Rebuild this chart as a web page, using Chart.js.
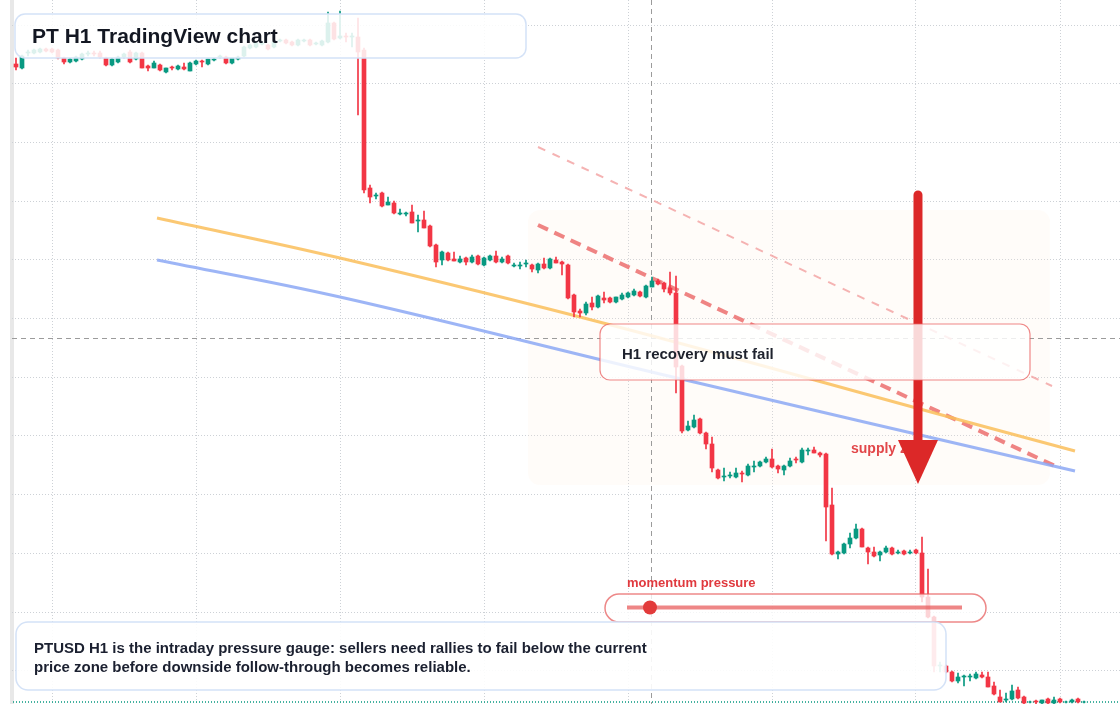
<!DOCTYPE html>
<html>
<head>
<meta charset="utf-8">
<script src="https://cdn.jsdelivr.net/npm/chart.js@4.4.1/dist/chart.umd.min.js"></script>
<style>
  html, body { margin: 0; padding: 0; background: #fff; }
  #wrap { width: 1120px; height: 704px; position: relative; }
</style>
</head>
<body>
<div id="wrap"><canvas id="chart"></canvas></div>
<script>
// PTUSD H1 candles, price in hidden-axis units (top of pane = 704)
const candleOpen = [
  640,636,651,651,652,655,655,654,646,642, 643,645,650,651,651,646,639,642,647,652,
  645,651,638,636,639,632,637,635,637,633, 640,643,640,644,647,647,641,645,648,656,
  657,660,659,657,663,664,662,659,663,664, 660,659,662,681,666,668,667,667,654,516,
  508,511,499,501,490,490,492,483,484,478, 459,444,451,445,442,446,442,448,439,444,
  448,442,448,438,438,440,439,434,440,436, 444,442,439,409,393,391,401,397,406,406,
  402,405,407,409,412,407,417,423,421,416, 411,338,274,277,285,271,260,234,227,228,
  227,231,229,237,238,242,245,238,234,238, 245,242,253,254,251,250,199,150,151,160,
  166,175,156,152,149,152,156,151,153,151, 154,151,107,87,38,38,32,23,27,27,
  26,29,27,18,7,4,5,14,7,2, 3,1,5,1,5,2,2,5,2
];
const candleHigh = [
  646,649,654,655,656,656,656,655,647,646, 648,651,653,653,653,647,646,648,651,654,
  652,652,639,643,640,636,638,639,641,642, 644,644,645,646,649,648,646,648,658,660,
  662,662,660,663,665,665,663,665,665,665, 662,664,692,682,693,671,671,686,656,519,
  511,512,507,503,495,492,499,489,493,479, 460,453,452,452,448,447,449,449,447,449,
  453,447,449,441,442,444,440,441,446,446, 447,443,440,410,395,402,407,409,412,407,
  407,411,412,415,413,419,427,425,422,432, 428,339,283,289,286,272,267,235,236,232,
  236,233,240,243,243,247,255,239,239,246, 247,256,256,257,252,251,216,153,161,171,
  180,176,157,157,153,158,157,154,154,154, 155,167,135,88,42,39,33,31,29,30,
  32,32,32,22,14,11,19,17,8,3, 4,4,6,7,6,3,5,6,3
];
const candleLow = [
  634,635,648,650,651,652,651,645,640,641, 642,644,648,648,646,638,638,641,646,641,
  644,636,633,636,633,631,634,634,634,633, 639,637,639,643,646,640,640,644,647,655,
  656,659,654,656,662,660,658,658,662,658, 659,658,661,664,665,662,657,589,511,501,
  505,497,499,490,489,488,481,472,476,457, 437,439,443,443,441,439,441,439,438,443,
  441,441,440,437,435,437,432,431,435,435, 441,429,405,387,387,389,394,396,401,401,
  401,404,406,408,407,406,417,419,412,409, 311,271,273,276,270,255,232,225,223,226,
  226,222,228,232,237,241,236,231,229,237, 241,241,249,251,247,163,149,145,150,156,
  165,157,140,147,143,151,149,150,149,150, 150,102,86,32,32,31,22,21,18,23,
  25,26,17,9,2,2,4,5,0,1, 0,0,0,0,1,1,1,1,1
];
const candleClose = [
  637,648,652,654,655,653,652,646,642,645, 647,650,651,650,647,639,645,647,650,642,
  651,636,636,641,634,636,636,638,635,641, 643,642,645,645,648,641,646,647,657,659,
  661,661,655,662,664,661,659,664,664,659, 661,663,681,665,668,667,668,652,514,507,
  509,498,502,491,491,491,481,484,476,458, 442,452,444,443,445,442,447,440,446,448,
  442,445,441,439,439,441,435,440,436,445, 441,440,406,392,391,400,397,408,404,402,
  407,409,411,413,408,418,423,420,415,411, 337,273,278,284,271,260,236,226,228,229,
  231,230,238,238,242,245,237,235,238,243, 244,254,254,251,249,197,150,152,160,166,
  175,157,152,148,152,156,150,152,150,152, 151,107,87,38,39,32,23,27,28,28,
  30,27,17,10,2,5,13,6,1,2, 2,4,1,4,2,2,4,2,2
];

// hidden axes: grid positions
const timeGrid = [6, 30, 54, 78, 102, 126, 150, 174];
const priceGrid = [679, 620.3, 561.6, 502.9, 444.2, 385.5, 326.8, 268.1, 209.4, 150.7, 92, 33.3];

// drawn trend lines (bar index / price)
const orangeX = [23.5, 54, 98.5, 157.33, 176.5];
const orangeY = [486, 446, 380, 284, 253];
const blueX = [23.5, 54, 107.33, 176.5];
const blueY = [444, 407, 330, 233];
const channelX = [87, 173.17];
const channelY = [479, 238];
const upperX = [87, 172.67];
const upperY = [557, 318];

// zone, crosshair, arrow, last price
const zoneX = [85.33, 172.33];
const zoneY = [494, 219];
const crossX = 105.83;
const crossY = 366;
const arrowX = 150.33;
const arrowY = [509, 264, 220]; // tail, head base, tip
const lastPrice = 2;

const UP = '#089981', DOWN = '#f23645';
const idx = candleOpen.map((_, i) => i);
const colors = idx.map(i => candleClose[i] >= candleOpen[i] ? UP : DOWN);

const pts = (xs, ys) => xs.map((x, i) => ({ x: x, y: ys[i] }));

function rr(ctx, x, y, w, h, r) {
  ctx.beginPath();
  ctx.roundRect(x, y, w, h, r);
}

const overlay = {
  id: 'overlay',
  beforeDraw(chart) {
    const ctx = chart.ctx;
    ctx.save();
    ctx.fillStyle = '#ffffff';
    ctx.fillRect(0, 0, chart.width, chart.height);
    ctx.fillStyle = '#e8e8e8';
    ctx.fillRect(10, 0, 4, chart.height);
    ctx.restore();
  },
  beforeDatasetsDraw(chart) {
    const { ctx, chartArea: a, scales: { x, y } } = chart;
    ctx.save();
    // supply zone tint
    const zx = x.getPixelForValue(zoneX[0]), zx2 = x.getPixelForValue(zoneX[1]);
    const zy = y.getPixelForValue(zoneY[0]), zy2 = y.getPixelForValue(zoneY[1]);
    ctx.fillStyle = 'rgba(255,236,222,0.17)';
    rr(ctx, zx, zy, zx2 - zx, zy2 - zy, 12);
    ctx.fill();
    // crosshair
    ctx.strokeStyle = '#9b9b9b';
    ctx.lineWidth = 1;
    ctx.setLineDash([5, 4]);
    const cx = Math.round(x.getPixelForValue(crossX)) + 0.5;
    const cy = Math.round(y.getPixelForValue(crossY)) + 0.5;
    ctx.beginPath();
    ctx.moveTo(cx, a.top); ctx.lineTo(cx, a.bottom);
    ctx.moveTo(a.left, cy); ctx.lineTo(a.right, cy);
    ctx.stroke();
    ctx.restore();
  },
  afterDatasetsDraw(chart) {
    const { ctx, scales: { x, y } } = chart;
    ctx.save();
    ctx.textBaseline = 'middle';
    ctx.textAlign = 'left';

    // supply zone label
    ctx.font = 'bold 14px "Liberation Sans", Arial, sans-serif';
    ctx.fillStyle = '#e2474a';
    ctx.fillText('supply zone', 851, 449);

    // down arrow
    const ax = x.getPixelForValue(arrowX);
    const tail = y.getPixelForValue(arrowY[0]);
    const base = y.getPixelForValue(arrowY[1]);
    const tip = y.getPixelForValue(arrowY[2]);
    ctx.strokeStyle = '#dc2828';
    ctx.fillStyle = '#dc2828';
    ctx.lineWidth = 9;
    ctx.lineCap = 'round';
    ctx.beginPath();
    ctx.moveTo(ax, tail); ctx.lineTo(ax, base + 2);
    ctx.stroke();
    ctx.beginPath();
    ctx.moveTo(ax - 20, base); ctx.lineTo(ax + 20, base); ctx.lineTo(ax, tip);
    ctx.closePath();
    ctx.fill();
    ctx.lineCap = 'butt';

    // title panel
    rr(ctx, 15, 14, 511, 44, 10);
    ctx.fillStyle = 'rgba(255,255,255,0.86)';
    ctx.fill();
    ctx.strokeStyle = '#d4e2f7';
    ctx.lineWidth = 1.5;
    ctx.stroke();
    ctx.fillStyle = '#131722';
    ctx.font = 'bold 21px "Liberation Sans", Arial, sans-serif';
    ctx.fillText('PT H1 TradingView chart', 32, 37);

    // recovery panel
    rr(ctx, 600, 324, 430, 56, 10);
    ctx.fillStyle = 'rgba(255,255,255,0.82)';
    ctx.fill();
    ctx.strokeStyle = 'rgba(234,98,98,0.75)';
    ctx.lineWidth = 1.2;
    ctx.stroke();
    ctx.fillStyle = '#1e222d';
    ctx.font = 'bold 15px "Liberation Sans", Arial, sans-serif';
    ctx.fillText('H1 recovery must fail', 622, 355);

    // momentum gauge
    rr(ctx, 605, 594, 381, 28, 14);
    ctx.fillStyle = 'rgba(255,255,255,0.78)';
    ctx.fill();
    ctx.strokeStyle = 'rgba(230,90,90,0.72)';
    ctx.lineWidth = 1.5;
    ctx.stroke();
    ctx.strokeStyle = 'rgba(232,88,88,0.72)';
    ctx.lineWidth = 4;
    ctx.beginPath();
    ctx.moveTo(627, 607.5); ctx.lineTo(962, 607.5);
    ctx.stroke();
    ctx.fillStyle = '#e23b3b';
    ctx.beginPath();
    ctx.arc(650, 607.5, 7, 0, Math.PI * 2);
    ctx.fill();
    ctx.fillStyle = '#e0393e';
    ctx.font = 'bold 13px "Liberation Sans", Arial, sans-serif';
    ctx.fillText('momentum pressure', 627, 583);

    // note panel
    rr(ctx, 16, 622, 930, 68, 12);
    ctx.fillStyle = 'rgba(255,255,255,0.9)';
    ctx.fill();
    ctx.strokeStyle = '#d4e2f7';
    ctx.lineWidth = 1.5;
    ctx.stroke();
    ctx.fillStyle = '#1b2030';
    ctx.font = 'bold 15px "Liberation Sans", Arial, sans-serif';
    ctx.fillText('PTUSD H1 is the intraday pressure gauge: sellers need rallies to fail below the current', 34, 649);
    ctx.fillText('price zone before downside follow-through becomes reliable.', 34, 668);
    ctx.restore();
  }
};

new Chart(document.getElementById('chart'), {
  type: 'bar',
  data: {
    datasets: [
      {
        label: 'body',
        data: idx.map(i => ({ x: i, y: [candleOpen[i], candleClose[i]] })),
        backgroundColor: colors,
        barThickness: 4,
        grouped: false,
        borderSkipped: false,
        order: 0
      },
      {
        label: 'wick',
        data: idx.map(i => ({ x: i, y: [candleLow[i], candleHigh[i]] })),
        backgroundColor: colors,
        barThickness: 1,
        grouped: false,
        borderSkipped: false,
        order: 1
      },
      {
        type: 'line', label: 'orange',
        data: pts(orangeX, orangeY),
        borderColor: 'rgba(250,190,90,0.85)', borderWidth: 3,
        pointRadius: 0, tension: 0.4, order: 5
      },
      {
        type: 'line', label: 'blue',
        data: pts(blueX, blueY),
        borderColor: 'rgba(140,168,245,0.85)', borderWidth: 3,
        pointRadius: 0, tension: 0.4, order: 5
      },
      {
        type: 'line', label: 'channel',
        data: pts(channelX, channelY),
        borderColor: 'rgba(236,110,110,0.85)', borderWidth: 4, borderDash: [11, 7],
        pointRadius: 0, order: 5
      },
      {
        type: 'line', label: 'upper',
        data: pts(upperX, upperY),
        borderColor: 'rgba(242,160,160,0.8)', borderWidth: 2, borderDash: [8, 8],
        pointRadius: 0, order: 5
      },
      {
        type: 'line', label: 'last',
        data: [{ x: -1, y: lastPrice }, { x: 185, y: lastPrice }],
        borderColor: UP, borderWidth: 1.5, borderDash: [1, 2],
        pointRadius: 0, order: 6
      }
    ]
  },
  options: {
    responsive: true,
    maintainAspectRatio: false,
    animation: false,
    events: [],
    layout: { padding: 0 },
    plugins: { legend: { display: false }, tooltip: { enabled: false } },
    scales: {
      x: {
        type: 'linear',
        min: -2 / 3,
        max: 184,
        offset: false,
        ticks: { display: false },
        grid: { color: '#cdd1d6', drawTicks: false, offset: false },
        border: { display: false, dash: [1, 2] },
        afterBuildTicks: s => { s.ticks = timeGrid.map(v => ({ value: v })); },
        afterFit: s => { s.height = 0; }
      },
      y: {
        min: 0,
        max: 704,
        ticks: { display: false },
        grid: { color: '#cdd1d6', drawTicks: false },
        border: { display: false, dash: [1, 2] },
        afterBuildTicks: s => { s.ticks = priceGrid.map(v => ({ value: v })); },
        afterFit: s => { s.width = 12; }
      }
    }
  },
  plugins: [overlay]
});
</script>
</body>
</html>
